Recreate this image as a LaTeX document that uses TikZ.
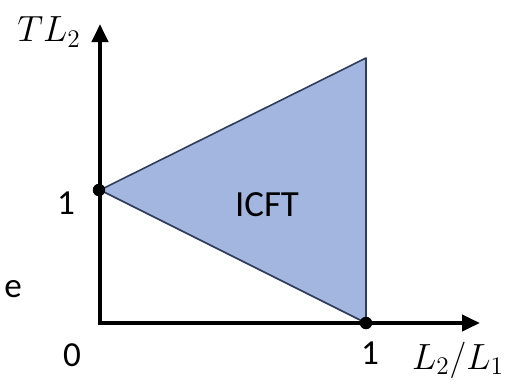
\documentclass[tikz,border=0pt]{standalone}
\usepackage{fontspec}
\setmainfont{Carlito}
\usetikzlibrary{arrows.meta}
\definecolor{regionfill}{RGB}{163,182,224}
\definecolor{regionedge}{RGB}{45,60,90}
\begin{document}
\begin{tikzpicture}[x=0.02cm, y=-0.02cm]
    % Styles
    \tikzstyle{axis} = [line width=2.4pt, -{Triangle[width=0.32cm,length=0.36cm]}]
    \tikzstyle{region} = [fill=regionfill, draw=regionedge, line width=0.9pt, line join=round]
    \tikzstyle{tick} = [font=\fontsize{20}{24}\selectfont]
    \tikzstyle{axislabel} = [font=\fontsize{21}{25}\selectfont]
    \tikzstyle{dot} = [circle, fill=black, inner sep=0pt, minimum size=0.25cm]
    \useasboundingbox (0,0) rectangle (512,390);

    % === Points ===
    \coordinate (origin) at (100,323);
    \coordinate (ytop) at (100,24);
    \coordinate (xend) at (480,323);
    \coordinate (apex) at (366,58);

    % === Region ===
    \draw [region] (100,190) -- (apex) -- (366,323) -- cycle;
    \node at (267,205) [tick, font=\fontsize{21}{25}\selectfont] (icft) {ICFT};

    % === Axes ===
    \draw [axis, line cap=round] (origin) -- (ytop);
    \draw [axis] ([xshift=-1.2pt]origin) -- (xend);
    \node [dot] (one) at (99,190) {};
    \node [dot] (corner) at (366,323) {};

    % === Labels ===
    \node [axislabel] (ylab) at (49,32) {$TL_2$};
    \node [axislabel, font=\fontsize{22}{26}\selectfont] (xlab) at (458,360) {$L_2/L_1$};
    \node [tick] (yone) at (66,203) {1};
    \node [tick] (xzero) at (72,355) {0};
    \node [tick] (xone) at (370,353) {1};
    \node [tick] (stray) at (13,289) {e};
\end{tikzpicture}
\end{document}
